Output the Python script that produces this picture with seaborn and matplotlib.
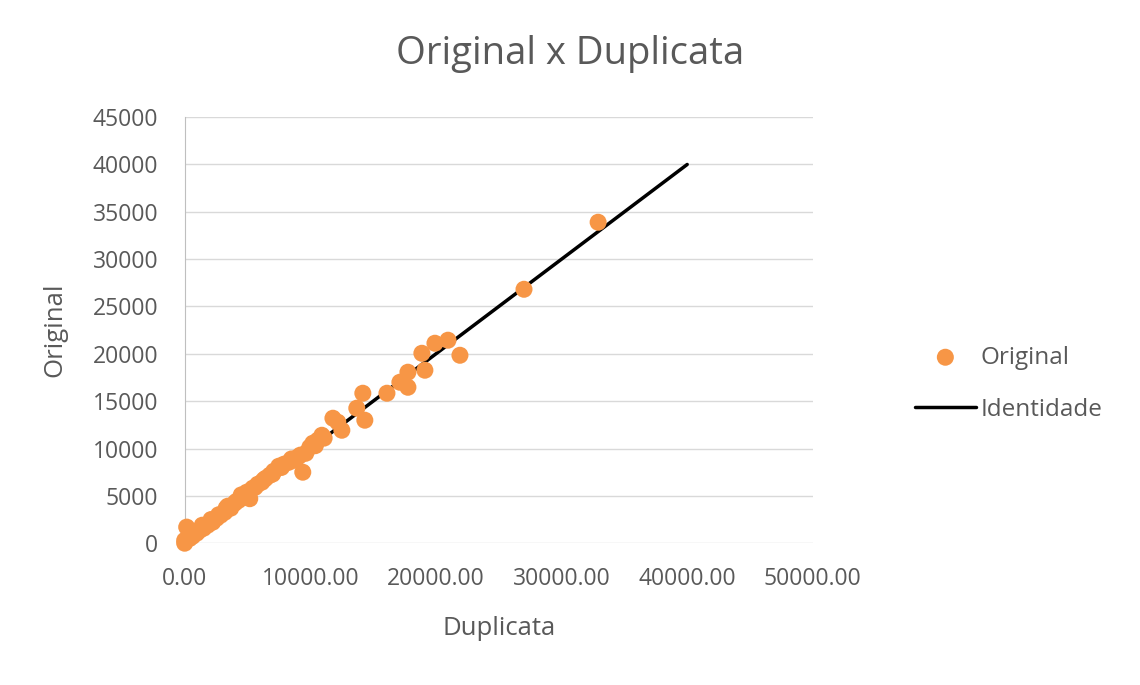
import matplotlib
matplotlib.use("Agg")
import matplotlib.pyplot as plt
import seaborn as sns
import pandas as pd
from matplotlib.ticker import FuncFormatter, MultipleLocator

# Data
duplicata = [0, 0, 160, 400, 640, 960, 1200, 1510, 1830, 2230, 2550, 2870, 3190,
             3430, 3670, 3980, 4300, 4620, 4940, 5180, 5420, 5820, 6140, 6450,
             6770, 7090, 7490, 7890, 8290, 8690, 9000, 9400, 9640, 9960, 10200,
             10600, 10920, 11800, 12190, 12510, 13700, 14180, 14340, 16100,
             17130, 17770, 17770, 19120, 18880, 19920, 20960, 21910, 27010, 32910,
             700, 1400, 2100, 2700, 3300, 4100, 4500, 5000, 5600, 6300, 7000,
             7700, 8500, 9200, 10400, 11100]
original = [0, 300, 1700, 500, 740, 1060, 1370, 1580, 1900, 2220, 2640, 2960, 3270,
            3910, 3700, 4220, 4540, 4860, 5390, 4700, 5810, 6230, 6440, 6860,
            7180, 7600, 8130, 8340, 8550, 8760, 9080, 7500, 9500, 10140, 10560,
            10880, 11400, 13200, 12780, 11930, 14260, 15840, 12990, 15840,
            17000, 16470, 18060, 18270, 20060, 21120, 21440, 19850, 26820, 33900,
            1100, 1900, 2500, 3000, 3700, 4400, 5100, 5200, 5900, 6700, 7300,
            8000, 8900, 9300, 10300, 11100]
ident_x = [0, 40000]
ident_y = [0, 40000]

df = pd.DataFrame({"Duplicata": duplicata, "Original": original})
line_df = pd.DataFrame({"x": ident_x, "y": ident_y})

sns.set_style("white")
plt.rcParams['font.family'] = ['Open Sans', 'DejaVu Sans']

fig = plt.figure(figsize=(11.4, 6.85), dpi=100)
ax = fig.add_axes([0.162, 0.207, 0.551, 0.622])

grey = "#595959"
sns.lineplot(data=line_df, x="x", y="y", ax=ax, color="black", linewidth=2.5,
             label="Identidade", zorder=2)
sns.scatterplot(data=df, x="Duplicata", y="Original", ax=ax, color="#F79646",
                s=150, edgecolor="none", label="Original", zorder=3, clip_on=False)

ax.set_xlim(0, 50000)
ax.set_ylim(0, 45000)
ax.xaxis.set_major_locator(MultipleLocator(10000))
ax.yaxis.set_major_locator(MultipleLocator(5000))
ax.xaxis.set_major_formatter(FuncFormatter(lambda v, p: f"{v:.2f}"))
ax.yaxis.set_major_formatter(FuncFormatter(lambda v, p: f"{v:.0f}"))
ax.grid(axis="y", color="#D9D9D9", linewidth=1)
ax.grid(axis="x", visible=False)
for s in ["top", "right", "bottom"]:
    ax.spines[s].set_visible(False)
ax.spines["left"].set_color("#BFBFBF")
ax.tick_params(axis="both", length=0, labelsize=16.5, colors=grey)
ax.tick_params(axis="y", pad=19)
ax.tick_params(axis="x", pad=17)

ax.set_xlabel("Duplicata", fontsize=18.5, color=grey)
ax.set_ylabel("Original", fontsize=18.5, color=grey)
ax.xaxis.set_label_coords(0.5, -0.172)
ax.yaxis.set_label_coords(-0.186, 0.5)
fig.text(0.5, 1 - 54 / 685, "Original x Duplicata", fontsize=27.5, color=grey,
         ha="center", va="center")

handles, labels = ax.get_legend_handles_labels()
order = [labels.index("Original"), labels.index("Identidade")]
ax.legend([handles[i] for i in order], [labels[i] for i in order],
          loc="center left", bbox_to_anchor=(0.8026, 0.44),
          bbox_transform=fig.transFigure, frameon=False, fontsize=17.5,
          labelcolor=grey, handlelength=2.5, handletextpad=0.2,
          labelspacing=1.15, borderpad=0, borderaxespad=0)

fig.savefig("out.png", dpi=100)
